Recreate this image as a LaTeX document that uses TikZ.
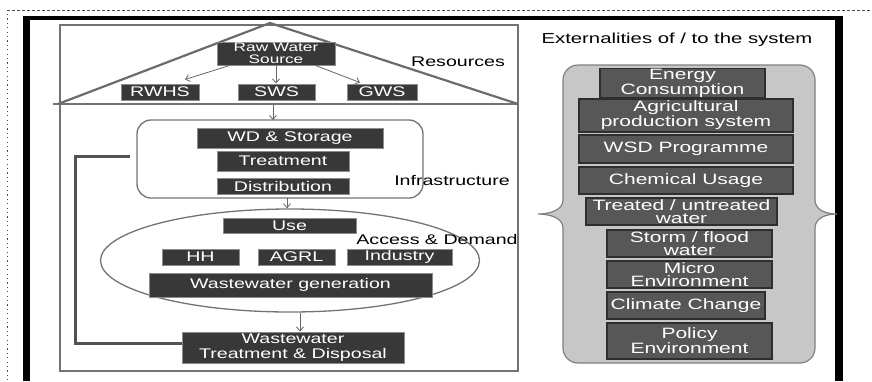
\documentclass[tikz,border=0pt]{standalone}
\usepackage{fontspec}
\setmainfont{Liberation Sans}[FakeStretch=1.4]
\usetikzlibrary{arrows.meta,calc,shapes.geometric}

\begin{document}
\begin{tikzpicture}[x=1pt,y=-1pt,
  box/.style={draw=black!45, line width=1pt, fill=black!78, text=white, inner sep=0pt,
    align=center, font=\fontsize{14}{14}\selectfont},
  ebox/.style={draw=black!82, line width=1.3pt, fill=black!66, text=white, inner sep=0pt,
    align=center, font=\fontsize{15}{13.5}\selectfont},
  lbl/.style={font=\fontsize{14}{14}\selectfont, inner sep=0pt},
  arr/.style={draw=black!60, line width=0.8pt, -{Straight Barb[length=4pt,width=7pt]}},
  frameline/.style={draw=black!55, line width=1.6pt},
  fb/.style={draw=black!68, line width=3pt},
]
\useasboundingbox (0,0) rectangle (872,381);

% page edges
\draw[black!70, line width=0.6pt, dash pattern=on 3pt off 2pt] (7,10) -- (872,10);
\draw[black!70, line width=0.9pt, dash pattern=on 1.2pt off 3.2pt] (7,14) -- (7,381);

% heavy outer frame
\draw[black, line width=4pt] (24,18) -- (840,18);
\draw[black, line width=7pt] (26.5,16) -- (26.5,381);
\draw[black, line width=8pt] (839,16) -- (839,381);

% ---------- water system (left) ----------
\draw[frameline] (60,25) rectangle (518,371);
\draw[frameline, line width=1.3pt] (53,104) -- (518,104);
\draw[draw=black!58, line width=2.2pt, line join=round] (58,104) -- (270,23) -- (518,104);

\draw[draw=black!55, line width=1.3pt, rounded corners=14pt] (137,120) rectangle (423,198);
\node[draw=black!55, line width=1.3pt, ellipse, minimum width=379, minimum height=103, inner sep=0pt]
  (acc) at (290,260.5) {};

\node[box, minimum width=118, minimum height=23, font=\fontsize{12.3}{12}\selectfont]
  (raw) at (276,53.5) {Raw Water\\Source};
\node[box, minimum width=78, minimum height=16] (rwhs) at (160,92) {RWHS};
\node[box, minimum width=77, minimum height=16] (sws) at (276.5,92) {SWS};
\node[box, minimum width=70, minimum height=16] (gws) at (382,92) {GWS};

\node[box, minimum width=186, minimum height=20] (wd) at (290,138) {WD \& Storage};
\node[box, minimum width=132, minimum height=20] (treat) at (283,161) {Treatment};
\node[box, minimum width=132, minimum height=16] (dist) at (283,186) {Distribution};

\node[box, minimum width=133, minimum height=15] (use) at (289.5,225.5) {Use};
\node[box, minimum width=77, minimum height=16] (hh) at (200.5,257) {HH};
\node[box, minimum width=77, minimum height=16] (agrl) at (296.5,257) {AGRL};
\node[box, minimum width=105, minimum height=16] (ind) at (399.5,257) {Industry};
\node[box, minimum width=283, minimum height=24] (wwg) at (290.5,285) {Wastewater generation};
\node[box, minimum width=222, minimum height=31, font=\fontsize{14}{15}\selectfont]
  (wwt) at (293,347.5) {Wastewater\\Treatment \& Disposal};

\node[lbl] (lres) at (458,62) {Resources};
\node[lbl] (linf) at (452,180) {Infrastructure};
\node[lbl] (lacc) at (437,239) {Access \& Demand};

% flows
\draw[arr] ([xshift=13pt]raw.south west) -- ([xshift=25pt,yshift=4pt]rwhs.north);
\draw[arr] (raw.south) -- (raw.south |- sws.north);
\draw[arr] ([xshift=-20pt]raw.south east) -- ([xshift=-22pt,yshift=1pt]gws.north);
\coordinate (split) at (273,104);
\draw[arr] (split) -- (273,120);
\draw[arr] ([xshift=4pt]dist.south |- 0,198) -- ([xshift=4pt]dist.south |- acc.north);
\draw[arr] ([xshift=7pt]wwt.north |- acc.south) -- ([xshift=7pt]wwt.north);

% return loop from treatment back to infrastructure
\coordinate (fbend) at (130,156.5);
\draw[fb] ([yshift=4pt]wwt.west) -| (75,156.5) -- (fbend);

% ---------- externalities (right) ----------
\node[lbl, font=\fontsize{14.5}{14}\selectfont] (lext) at (677,40) {Externalities of / to the system};

\path[draw=black!50, line width=1.2pt, fill=black!22]
  (578,65) -- (800,65) arc[start angle=-90, end angle=0, radius=15] -- (815,200)
  .. controls (815,210) and (826,214) .. (837,214)
  .. controls (826,214) and (815,218) .. (815,228)
  -- (815,348) arc[start angle=0, end angle=90, radius=15] -- (578,363)
  arc[start angle=90, end angle=180, radius=15] -- (563,228)
  .. controls (563,218) and (550,214) .. (538,214)
  .. controls (550,214) and (563,210) .. (563,200)
  -- (563,80) arc[start angle=180, end angle=270, radius=15] -- cycle;

\node[ebox, minimum width=165, minimum height=28] (energy) at (682.5,83) {Energy\\Consumption};
\node[ebox, minimum width=214, minimum height=33] (agri) at (686,115.5) {Agricultural\\production system};
\node[ebox, minimum width=214, minimum height=28] (wsd) at (686,149) {WSD Programme};
\node[ebox, minimum width=214, minimum height=27] (chem) at (686,180.5) {Chemical Usage};
\node[ebox, minimum width=191, minimum height=27] (treated) at (681.5,211.5) {Treated / untreated\\water};
\node[ebox, minimum width=165, minimum height=27] (storm) at (689.5,243.5) {Storm / flood\\water};
\node[ebox, minimum width=165, minimum height=27] (micro) at (689.5,274.5) {Micro\\Environment};
\node[ebox, minimum width=158, minimum height=27] (climate) at (686,305.5) {Climate Change};
\node[ebox, minimum width=165, minimum height=36] (policy) at (689.5,341) {Policy\\Environment};
\end{tikzpicture}
\end{document}
